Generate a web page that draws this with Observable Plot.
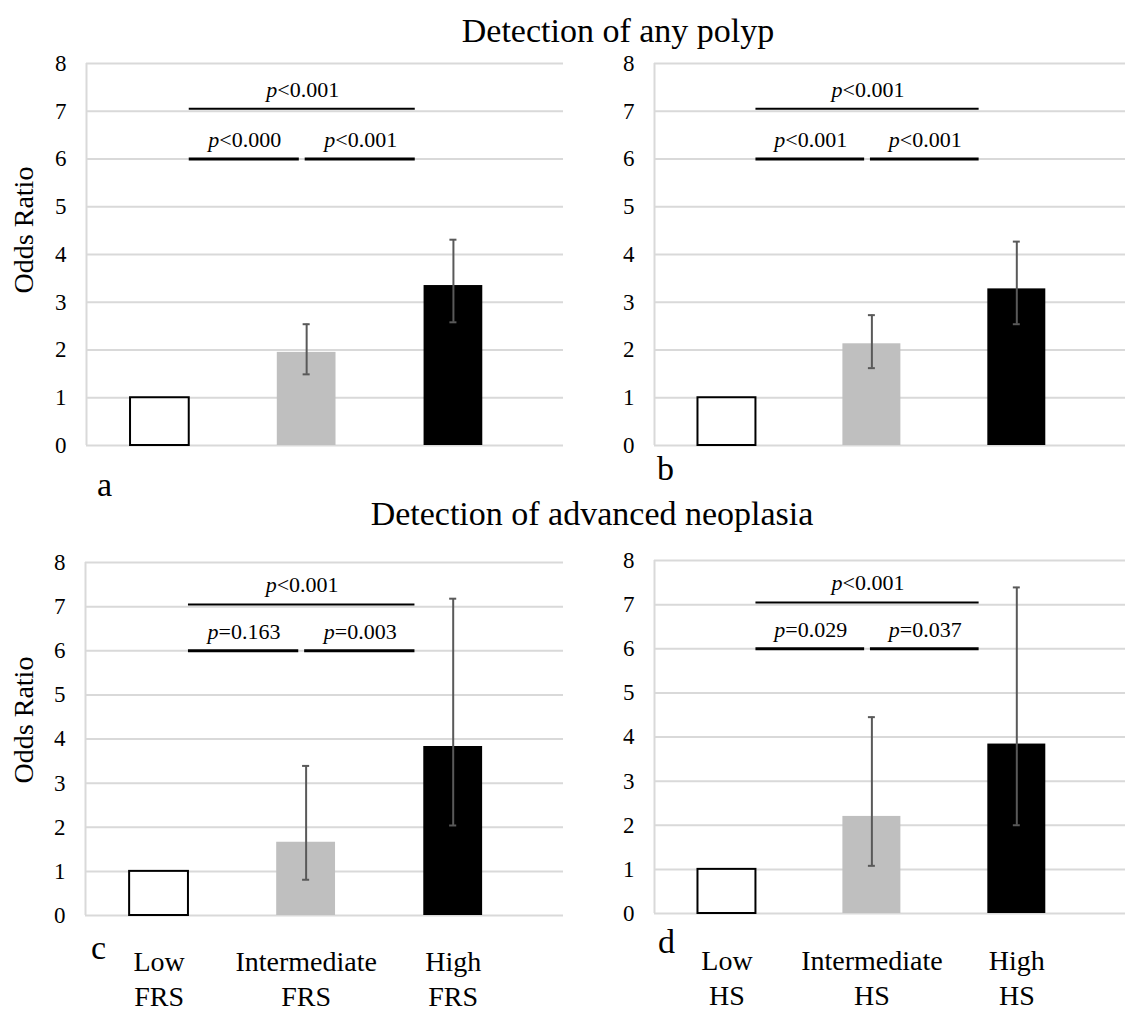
<!DOCTYPE html>
<html><head><meta charset="utf-8">
<script src="https://cdn.jsdelivr.net/npm/d3@7"></script>
<script src="https://cdn.jsdelivr.net/npm/@observablehq/plot@0.6"></script>
<style>
html,body{margin:0;padding:0;background:#fff;}
#root{position:relative;width:1125px;height:1012px;overflow:hidden;background:#fff;font-family:"Liberation Serif","Times New Roman",serif;}
#root > svg{position:absolute;}
#root text{font-family:"Liberation Serif","Times New Roman",serif;}
</style></head><body><div id="root"></div>
<script>
// ---- data ----
const categories = ["Low", "Intermediate", "High"];
const labelsFRS = ["Low\nFRS", "Intermediate\nFRS", "High\nFRS"];
const labelsHS = ["Low\nHS", "Intermediate\nHS", "High\nHS"];
const yTicks = [0, 1, 2, 3, 4, 5, 6, 7, 8];
const sectionTitles = ["Detection of any polyp", "Detection of advanced neoplasia"];
const panelLetters = ["a", "b", "c", "d"];
const yLabel = "Odds Ratio";

// odds ratios and 95% CI (Low is reference)
const orPolypFRS = [1, 1.95, 3.35];
const loPolypFRS = [null, 1.49, 2.58];
const hiPolypFRS = [null, 2.54, 4.31];

const orPolypHS = [1, 2.13, 3.28];
const loPolypHS = [null, 1.62, 2.54];
const hiPolypHS = [null, 2.73, 4.27];

const orNeoFRS = [1, 1.66, 3.83];
const loNeoFRS = [null, 0.81, 2.04];
const hiNeoFRS = [null, 3.39, 7.18];

const orNeoHS = [1, 2.20, 3.84];
const loNeoHS = [null, 1.08, 2.00];
const hiNeoHS = [null, 4.45, 7.39];

// p-values: [Low vs Intermediate, Intermediate vs High, Low vs High]
const pPolypFRS = ["<0.000", "<0.001", "<0.001"];
const pPolypHS = ["<0.001", "<0.001", "<0.001"];
const pNeoFRS = ["=0.163", "=0.003", "<0.001"];
const pNeoHS = ["=0.029", "=0.037", "<0.001"];
const comparisons = [["Low", "Intermediate"], ["Intermediate", "High"], ["Low", "High"]];

// ---- drawing ----
const root = document.getElementById("root");
const FONT = '"Liberation Serif", "Times New Roman", serif';
const fills = ["white", "#bfbfbf", "black"];
const xDomain = [-0.5, 2.75];

function panel(cfg) {
  const rows = categories.map((c, i) => ({i, cat: c, or: cfg.or[i], lo: cfg.lo[i], hi: cfg.hi[i]}));
  const err = rows.filter(d => d.lo != null);
  const caps = err.flatMap(d => [{i: d.i, v: d.lo}, {i: d.i, v: d.hi}]);
  const br = comparisons.map(([a, b], k) => {
    const ia = categories.indexOf(a), ib = categories.indexOf(b);
    const x1 = ia + (ia === 0 ? 0.2 : -0.01);
    const x2 = ib - (ib === 2 ? 0.26 : 0.05);
    return {x1, x2, xm: (x1 + x2) / 2, y: ib - ia === 2 ? 7.05 : 6, p: cfg.p[k], wide: ib - ia === 2};
  });
  const marks = [
    Plot.ruleY(yTicks, {stroke: "#d9d9d9", strokeWidth: 2}),
    Plot.ruleX([xDomain[0]], {stroke: "#d9d9d9", strokeWidth: 2}),
    Plot.rectY(rows, {x1: d => d.i - 0.2, x2: d => d.i + 0.2, y1: 0, y2: "or",
      fill: d => fills[d.i], stroke: d => d.i === 0 ? "black" : "none", strokeWidth: 2}),
    Plot.ruleX(err, {x: "i", y1: "lo", y2: "hi", stroke: "#595959", strokeWidth: 2}),
    Plot.ruleY(caps, {y: "v", x1: d => d.i - 0.024, x2: d => d.i + 0.024, stroke: "#595959", strokeWidth: 2}),
    Plot.ruleY(br.filter(d => !d.wide), {y: "y", x1: "x1", x2: "x2", stroke: "black", strokeWidth: 3}),
    Plot.ruleY(br.filter(d => d.wide), {y: "y", x1: "x1", x2: "x2", stroke: "black", strokeWidth: 2}),
    Plot.text(br, {x: "xm", y: "y", text: () => "p", fontStyle: "italic", textAnchor: "end",
      lineAnchor: "bottom", dy: -12, dx: -25, fontSize: 22, fontFamily: FONT}),
    Plot.text(br, {x: "xm", y: "y", text: "p", textAnchor: "start",
      lineAnchor: "bottom", dy: -12, dx: -25, fontSize: 22, fontFamily: FONT}),
    Plot.axisY({ticks: yTicks, tickSize: 0, tickPadding: 20, fontSize: 23, fontFamily: FONT, label: null})
  ];
  if (cfg.xLabels) {
    marks.push(Plot.axisX({ticks: [0, 1, 2], tickFormat: i => cfg.xLabels[i], tickSize: 0,
      tickPadding: cfg.tickPadding, fontSize: 28, fontFamily: FONT, lineHeight: 1.24, label: null}));
  }
  const svg = Plot.plot({
    width: cfg.width, height: cfg.height,
    marginLeft: cfg.ml, marginRight: cfg.mr, marginTop: cfg.mt, marginBottom: cfg.mb,
    x: cfg.xLabels ? {domain: xDomain} : {domain: xDomain, axis: null},
    y: {domain: [0, 8]},
    color: {type: "identity"},
    style: {fontFamily: FONT, background: "transparent", color: "black", overflow: "visible"},
    marks
  });
  svg.style.left = cfg.left + "px";
  svg.style.top = cfg.top + "px";
  root.appendChild(svg);
}

panel({or: orPolypFRS, lo: loPolypFRS, hi: hiPolypFRS, p: pPolypFRS,
  left: 0, top: 50, width: 565, height: 405, ml: 86, mr: 2, mt: 13, mb: 10});
panel({or: orPolypHS, lo: loPolypHS, hi: hiPolypHS, p: pPolypHS,
  left: 560, top: 50, width: 565, height: 405, ml: 94, mr: 0, mt: 13, mb: 10});
panel({or: orNeoFRS, lo: loNeoFRS, hi: hiNeoFRS, p: pNeoFRS, xLabels: labelsFRS, tickPadding: 31,
  left: 0, top: 550, width: 565, height: 462, ml: 85, mr: 2, mt: 12, mb: 97});
panel({or: orNeoHS, lo: loNeoHS, hi: hiNeoHS, p: pNeoHS, xLabels: labelsHS, tickPadding: 32,
  left: 560, top: 548, width: 565, height: 464, ml: 94, mr: 0, mt: 12, mb: 99});

// overlay: titles, panel letters, y labels
const ov = d3.select(root).append("svg")
  .attr("width", 1125).attr("height", 1012)
  .style("left", "0px").style("top", "0px").style("pointer-events", "none")
  .attr("font-family", FONT).attr("fill", "black");
ov.append("text").attr("x", 618).attr("y", 42).attr("text-anchor", "middle")
  .attr("font-size", 34).text(sectionTitles[0]);
ov.append("text").attr("x", 592).attr("y", 525).attr("text-anchor", "middle")
  .attr("font-size", 34).text(sectionTitles[1]);
[[97, 496], [657, 480], [91, 959], [658, 953]].forEach(([x, y], k) => {
  ov.append("text").attr("x", x).attr("y", y).attr("font-size", 34).text(panelLetters[k]);
});
[[33, 230], [33, 720]].forEach(([x, y]) => {
  ov.append("text").attr("transform", `translate(${x},${y}) rotate(-90)`)
    .attr("text-anchor", "middle").attr("font-size", 28).text(yLabel);
});
</script></body></html>
